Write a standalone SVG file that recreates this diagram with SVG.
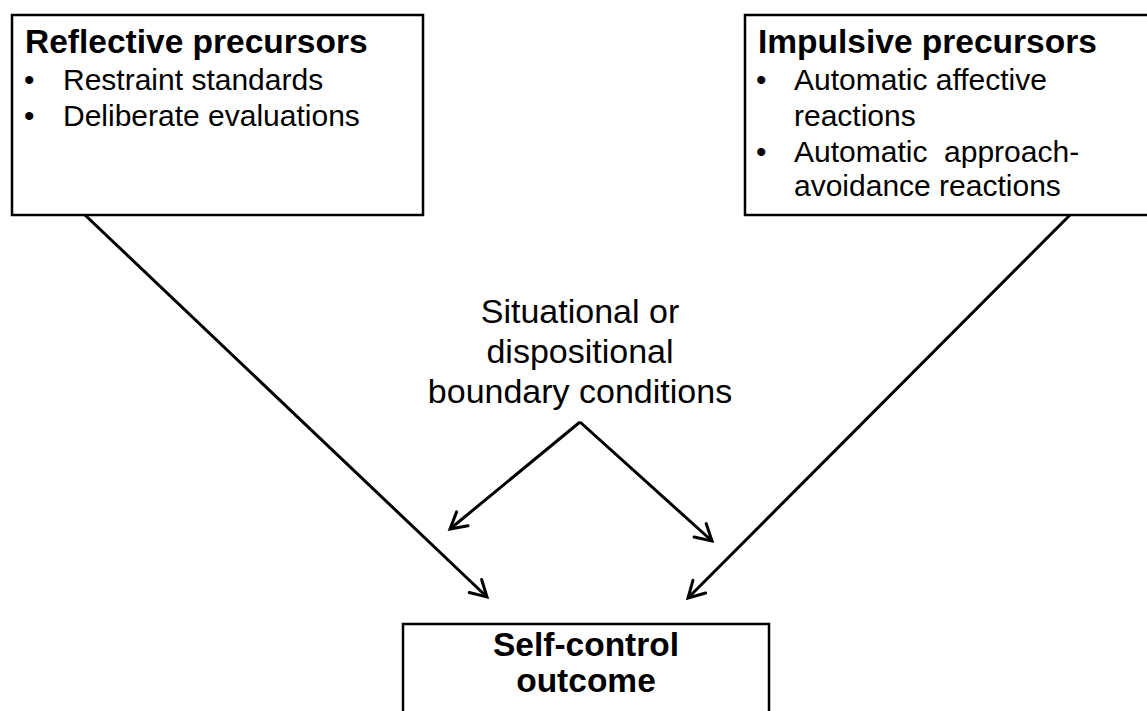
<svg xmlns="http://www.w3.org/2000/svg" width="1147" height="711" viewBox="0 0 1147 711">
<style>
.box{fill:#fff;stroke:#000;stroke-width:2.5}
.t{font-family:"Liberation Sans",Arial,sans-serif;fill:#000}
.b{font-weight:bold;font-size:33.5px}
.r{font-size:30px;white-space:pre}
.m{font-size:34px}
.c{stroke:#000;stroke-width:3;fill:none}
</style>
<defs>
<marker id="arr" markerUnits="userSpaceOnUse" viewBox="-20 -12 24 24" refX="0" refY="0" markerWidth="24" markerHeight="24" orient="auto">
<path d="M-16,-9 L0,0 L-16,9" fill="none" stroke="#000" stroke-width="3" stroke-linecap="round" stroke-linejoin="miter"/>
</marker>
</defs>
<rect width="1147" height="711" fill="#fff"/>
<g id="reflective">
<rect class="box" x="12" y="15" width="411" height="200"/>
<text class="t b" x="25" y="53">Reflective precursors</text>
<text class="t r" x="24" y="90">•</text>
<text class="t r" x="63" y="90">Restraint standards</text>
<text class="t r" x="24" y="126">•</text>
<text class="t r" x="63" y="126">Deliberate evaluations</text>
</g>
<g id="impulsive">
<rect class="box" x="745" y="15" width="410" height="200"/>
<text class="t b" x="758" y="53">Impulsive precursors</text>
<text class="t r" x="756" y="90">•</text>
<text class="t r" x="794" y="90">Automatic affective</text>
<text class="t r" x="794" y="126">reactions</text>
<text class="t r" x="756" y="162">•</text>
<text class="t r" x="794" y="162">Automatic  approach-</text>
<text class="t r" x="794" y="196">avoidance reactions</text>
</g>
<g id="boundary">
<text class="t m" x="580" y="323" text-anchor="middle">Situational or</text>
<text class="t m" x="580" y="363" text-anchor="middle">dispositional</text>
<text class="t m" x="580" y="403" text-anchor="middle">boundary conditions</text>
</g>
<g id="outcome">
<rect class="box" x="403" y="624" width="366" height="100"/>
<text class="t b" x="586" y="656" text-anchor="middle">Self-control</text>
<text class="t b" x="586" y="692" text-anchor="middle">outcome</text>
</g>
<g id="connectors">
<line class="c" x1="85" y1="215" x2="487" y2="597" marker-end="url(#arr)"/>
<line class="c" x1="1070" y1="215" x2="688" y2="598" marker-end="url(#arr)"/>
<line class="c" x1="580" y1="422" x2="450" y2="529" marker-end="url(#arr)"/>
<line class="c" x1="580" y1="422" x2="712" y2="541" marker-end="url(#arr)"/>
</g>
</svg>
